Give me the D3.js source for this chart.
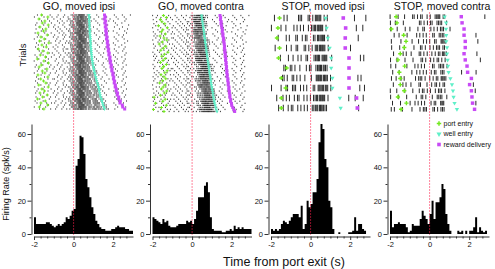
<!DOCTYPE html>
<html><head><meta charset="utf-8">
<script src="https://cdn.jsdelivr.net/npm/d3@7"></script>
<style>
body{margin:0;background:#fff}
svg{display:block}
text{font-family:"Liberation Sans",Arial,Helvetica,sans-serif;fill:#111}
</style>
</head><body>
<svg id="chart" width="495" height="269"></svg>
<script>
// ---------------- DATA ----------------
const panelTitles = ["GO, moved ipsi", "GO, moved contra", "STOP, moved ipsi", "STOP, moved contra"];
const timeTicks = [-2, 0, 2];
const rateTicks = [0, 20, 40, 60];
const rateMinorTicks = [10, 30, 50];
const legendLabels = ["port entry", "well entry", "reward delivery"];
const axisLabelX = "Time from port exit (s)";
const axisLabelHist = "Firing Rate (spk/s)";
const axisLabelRaster = "Trials";
const binStart = -2, binWidth = 0.1;

// histogram firing rates (spk/s), 0.1 s bins from -2 s
const rateGoIpsi = [10,6,6,6,6,6,7,7,6,5, 4,5,6,5,6,7,10,9,11,14, 15,41,45,59,58,48,33,28,22,16, 12,8,6,4,3,3,2,2,2,3, 3,4,5,4,4,4,3,3,2,2];
const rateGoContra = [10,9,8,7,6,9,7,8,5,4, 4,4,5,6,6,6,6,8,7,8, 6,9,14,22,22,22,29,31,25,10, 3,2,2,2,2,1,1,2,2,3, 2,5,3,4,3,4,3,3,3,3];
const rateStopIpsi = [3,2,3,2,3,6,8,7,6,8, 10,12,12,12,10,17,3,6,20,16, 18,25,25,33,55,66,63,45,40,20, 16,3,0,0,1,0,0,0,0,1, 1,2,10,2,6,6,3,2,0,0];
const rateStopContra = [14,4,6,6,7,6,6,6,4,1, 2,6,5,5,5,9,14,11,9,6, 12,20,9,19,19,22,30,27,12,6, 2,0,0,0,2,1,2,0,2,0, 2,2,4,10,1,4,2,1,2,0];

// raster: spikes per 0.1 s bin for each displayed trial (from -2 s)
const spikesGoIpsi = [
"0100100010 0010010011 1233321100 0100010000 1000100010",
"1000010001 0100100101 1234322110 0010001000 0100010000",
"0010001000 1001000111 2233322100 1000100010 0010001000",
"0001000100 0100101012 1234332110 0100000100 1000010000",
"0100010010 0010010011 1333322110 0010010000 0100100000",
"1000100000 1000100111 2234322110 0001000100 0010000100",
"0010000101 0010010012 1233432100 1000010000 1000100000",
"0100100000 1001001011 2234322110 0100001000 0001000100",
"0001001000 0100100111 1234332210 0010000100 1000010000",
"1000010010 0010010012 2333422110 1000100000 0100001000",
"0010000100 1000101011 1234332110 0100010000 0010010000",
"0100100001 0010010111 2234322110 0001000100 1000100000",
"1000010000 0100100012 1334332110 0010001000 0100010000",
"0001000100 1001001011 2233432110 1000010000 0010000100",
"0100010010 0010010111 1234332210 0100100000 1000010000",
"0010001000 0100100012 2234322110 0010000100 0100100000",
"1000100001 0010010011 1334332110 0001001000 0010001000",
"0100000100 1000101112 2233422110 1000010000 1000010000",
"0010010000 0100100011 1234332210 0100000100 0100100000",
"0001000101 0010010112 2234332110 0010010000 0010001000",
"1000100000 1001001011 1333422110 0001000100 1000010000",
"0100001010 0010010111 2234332210 1000100000 0100100000",
"0010000100 0100100012 1234322211 0100001000 0010001000",
"1000010000 1000101011 2233432210 0010000100 1000010000",
"0001001000 0010010112 1234332211 1000010000 0100100000",
"0100100010 0100100011 2334322211 0100100000 0010001000",
"1000000100 1001001012 1234332211 1000010000 1000010000",
"0010010001 0010010111 2233422211 1000001000 0100100000",
"0100001000 0100100112 1234332221 1100100000 0010001000",
"1000100010 1000101011 2234332211 1100010000 1000010000",
"0001000100 0010010012 1333422221 1010001000 0100100000",
"0100010000 0100100111 2234332211 1100100000 0010001000",
"0010000101 1001001012 1234322221 1101000100 1000010000",
"1000100000 0010010111 2233432211 2100010000 0100100000",
"0100001010 0100100012 1234332221 1110001000 0010001000",
"0001000100 1000101011 2234322211 2110100000 1000010000",
"1000010000 0010010112 1333432221 1210010000 0100100000",
"0010100010 0100100011 2234332211 2111000100 0010001000",
"0100000100 1001001012 1234322221 1210100000 1000010000",
"1000100001 0010010111 2233432221 2111010000 0100100000",
"0001001000 0100100012 1234332211 2211001000 0010001000",
"0100010010 1000101011 2234322221 1211100000 1000010000",
"0010000100 0010010112 1333432211 2211110000 0100100000",
"1000100000 0100100111 2234332221 2211101000 0010001000",
"0100001010 1001001012 1234322221 2221110000 1000010000",
"0001000100 0010010111 2233432211 2211111000 0100100000",
"1000010000 0100100012 1234332221 2221111000 0010001000",
"0010100010 1000101011 2234322211 2221111100 1000010000"
];
const portGoIpsi = [-1.62,-1.30,-1.75,-1.45,-1.58,-1.28,-1.70,-1.40,-1.52,-1.80,-1.33,-1.65,-1.48,-1.72,-1.25,-1.60,-1.38,-1.78,-1.55,-1.30,-1.68,-1.42,-1.83,-1.50,-1.27,-1.63,-1.74,-1.35,-1.58,-1.45,-1.80,-1.30,-1.66,-1.52,-1.40,-1.76,-1.28,-1.60,-1.47,-1.70,-1.33,-1.56,-1.82,-1.43,-1.65,-1.31,-1.73,-1.50];
const wellGoIpsi = [0.78,0.78,0.79,0.79,0.80,0.80,0.81,0.81,0.82,0.82,0.83,0.84,0.85,0.85,0.86,0.86,0.87,0.88,0.89,0.90,0.91,0.92,0.93,0.95,0.96,0.98,1.00,1.02,1.04,1.07,1.09,1.12,1.14,1.17,1.20,1.23,1.26,1.28,1.30,1.32,1.34,1.36,1.40,1.43,1.46,1.49,1.53,1.56];
const rewardGoIpsi = [1.56,1.60,1.55,1.62,1.58,1.64,1.60,1.65,1.62,1.66,1.64,1.69,1.66,1.72,1.70,1.74,1.72,1.77,1.75,1.80,1.78,1.84,1.82,1.87,1.85,1.91,1.89,1.94,1.93,1.99,1.98,2.03,2.01,2.07,2.05,2.11,2.10,2.16,2.15,2.22,2.20,2.28,2.27,2.36,2.34,2.46,2.48,2.58];

const spikesGoContra = [
"1010010010 0100100101 1233321100 0100010000 1000100010",
"0100100101 0010010010 1232332100 0010001000 0100010000",
"1001001000 1001001001 1223321000 1000100010 0010001000",
"0010100100 0100100110 1333221100 0100000100 1000010000",
"1000010010 0010010101 1233321100 0010010000 0100100000",
"0101001000 1001001010 1232332100 0001000100 0010000100",
"1000100101 0100100101 1223321000 1000010000 1000100000",
"0010010010 0010010110 1333221100 0100001000 0001000100",
"1001000100 1001001001 1233321100 0010000100 1000010000",
"0100101001 0100100110 1232332100 1000100000 0100001000",
"1010010000 0010010101 1223321000 0100010000 0010010000",
"0100100101 1001001010 1333221100 0001000100 1000100000",
"1001010010 0100100101 0122333210 0010001000 0100010000",
"0010100100 0010010110 1123332110 1000010000 0010000100",
"1000010010 1001001001 0123323210 0100100000 1000010000",
"0101001000 0100100110 1122333210 0010000100 0100100000",
"1000100101 0010010101 0122333210 0001001000 0010001000",
"0010010010 1001001010 1123332110 1000010000 1000010000",
"1001000100 0100100101 0123323210 0100000100 0100100000",
"0100101001 0010010110 1122333210 0010010000 0010001000",
"1010010000 1001001001 0122333210 0001000100 1000010000",
"0100100101 0100100110 1123332110 1000100000 0100100000",
"1001010010 0010010101 0123323210 0100001000 0010001000",
"0010100100 1001001010 1122333210 0010000100 1000010000",
"1000010010 0100100101 0112233321 1000010000 0100100000",
"0101001000 0010010110 0011233331 0100100000 0010001000",
"1000100101 1001001001 1012333321 1000010000 1000010000",
"0010010010 0100100110 0112323331 1000001000 0100100000",
"1001000100 0010010101 0112233321 0100100000 0010001000",
"0100101001 1001001010 0011233331 1000010000 1000010000",
"1010010000 0100100101 1012333321 0010001000 0100100000",
"0100100101 0010010110 0112323331 1000100000 0010001000",
"1001010010 1001001001 0112233321 0101000100 1000010000",
"0010100100 0100100110 0011233331 1000010000 0100100000",
"1000010010 0010010101 1012333321 0100001000 0010001000",
"0101001000 1001001010 0112323331 1000100000 1000010000",
"1000100101 0100100101 0011123333 2100010000 0100100000",
"0010010010 0010010110 0101123332 2101000100 0010001000",
"1001000100 1001001001 0011223333 2100100000 1000010000",
"0100101001 0100100110 1011123332 2110010000 0100100000",
"1010010000 0010010101 0011123333 2101001000 0010001000",
"0100100101 1001001010 0101123332 2100100000 1000010000",
"1001010010 0100100101 0011223333 2110010000 0100100000",
"0010100100 0010010110 1011123332 2101000100 0010001000",
"1000010010 1001001001 0011123333 2100100000 1000010000",
"0101001000 0100100110 0101123332 2110010000 0100100000",
"1000100101 0010010101 0011223333 2101001000 0010001000",
"0010010010 1001001010 1011123332 2210100000 1000010000"
];
const portGoContra = [-1.45,-1.30,-1.60,-1.52,-1.38,-1.70,-1.25,-1.48,-1.55,-1.35,-1.62,-1.42,-1.28,-1.50,-1.66,-1.33,-1.45,-1.58,-1.22,-1.40,-1.53,-1.36,-1.47,-1.60,-1.30,-1.44,-1.52,-1.26,-1.38,-1.57,-1.42,-1.33,-1.49,-1.64,-1.35,-1.46,-1.55,-1.28,-1.40,-1.60,-1.92,-1.36,-1.48,-1.85,-1.30,-1.55,-1.95,-1.42];
const wellGoContra = [0.48,0.49,0.51,0.52,0.54,0.55,0.57,0.58,0.60,0.61,0.62,0.64,0.65,0.66,0.68,0.69,0.71,0.72,0.73,0.75,0.76,0.78,0.79,0.81,0.82,0.84,0.85,0.87,0.88,0.90,0.92,0.93,0.95,0.96,0.98,1.00,1.01,1.03,1.05,1.06,1.08,1.10,1.12,1.14,1.17,1.19,1.22,1.26];
const rewardGoContra = [1.41,1.44,1.43,1.47,1.46,1.49,1.50,1.53,1.52,1.56,1.55,1.59,1.58,1.61,1.62,1.64,1.63,1.66,1.65,1.68,1.67,1.70,1.69,1.72,1.71,1.74,1.73,1.76,1.75,1.78,1.77,1.81,1.80,1.83,1.82,1.86,1.85,1.88,1.88,1.91,1.90,1.95,1.94,1.99,2.00,2.05,2.10,2.15];

const spikesStopIpsi = [
"0100001010 0001110011 0121211010 0000000000 0010000100",
"1000010100 0101101010 1122221100 0000000000 0001001000",
"0001000101 0011010110 0112122110 0000000000 0000100000",
"0010000100 1011001101 1012222110 0000000000 1000000000",
"0000100010 0101010110 0112212210 1000000000 0000011000",
"0000001101 1010100101 1011222110 0000000000 0000000000",
"0000011010 1101100100 1012222210 1000000000 0001010000",
"1000010110 1110101010 0111212210 1000000000 0000100100",
"0010001101 0101101011 0112222110 0000000001 0010001000",
"0001001010 1101011010 1112221110 0000000000 0000100000"
];
const portStopIpsi = [-1.57,-1.65,-1.70,-1.57,-1.62,-1.21,-1.48,-1.26,-1.48,-1.48];
const wellStopIpsi = [0.76,0.81,0.87,0.96,1.04,1.04,1.10,1.10,1.48,1.52];
const rewardStopIpsi = [1.65,1.77,1.75,1.75,1.94,1.94,1.94,1.94,2.32,2.36];

const spikesStopContra = [
"1000100100 0111011010 1011211100 0000000000 0000000100",
"1010001000 0000110110 1101111010 0000000000 0000000000",
"1001000100 1000101100 1011011100 1000000000 0000000000",
"0010100010 0001011010 0110111100 0000000000 0001000000",
"1000010000 0100101010 1011012110 0000000000 0000100000",
"1000100100 0010011100 1101111100 0000000000 0000000000",
"0100001010 1000110110 0110112110 0000000000 0001000000",
"1001000100 0100011010 1011101100 0000000000 0000010000",
"1010000010 0010110100 0110111110 0000000000 0000000000",
"0100100000 0101011010 1011011100 0000001000 0001000000",
"1001010100 0010111100 1101112110 0000000000 0000000000",
"0100001010 1000110010 0111011100 0000000000 0010000000",
"1001000100 0100101110 1010111100 0000000000 0001000000",
"1000100010 0001011010 0101111010 0000000000 0000000000",
"0100010000 1010110100 1011012100 0000000000 0001000000",
"1010001000 0100011110 0110111100 0000000000 0000000000"
];
const portStopContra = [-1.69,-1.65,-1.93,-1.31,-1.19,-1.28,-1.48,-1.60,-1.26,-1.53,-1.48,-1.48,-1.28,-1.60,-1.17,-1.44];
const wellStopContra = [0.76,0.83,0.83,0.84,0.84,0.88,0.88,0.91,0.93,0.96,1.05,1.13,1.18,1.21,1.26,1.38];
const rewardStopContra = [1.60,1.64,1.74,1.74,1.80,1.80,1.74,1.80,1.89,1.92,2.11,2.02,2.11,2.14,2.17,2.27];

// ---------------- LAYOUT ----------------
const colors = {port: "#72e81e", well: "#5ef0c8", reward: "#c84af6", zero: "#ff1f4b"};
const panels = [
  {title: panelTitles[0], rate: rateGoIpsi, spikes: spikesGoIpsi, port: portGoIpsi, well: wellGoIpsi, reward: rewardGoIpsi,
   left: 34, rTop: 14, rBot: 110, tickH: 1.3, tickW: 0.8, sz: {port: 5, well: 5, reward: 9}, titleDx: -4.5},
  {title: panelTitles[1], rate: rateGoContra, spikes: spikesGoContra, port: portGoContra, well: wellGoContra, reward: rewardGoContra,
   left: 152.5, rTop: 14.5, rBot: 112.5, tickH: 1.3, tickW: 0.8, sz: {port: 5, well: 5, reward: 9}, titleDx: -1},
  {title: panelTitles[2], rate: rateStopIpsi, spikes: spikesStopIpsi, port: portStopIpsi, well: wellStopIpsi, reward: rewardStopIpsi,
   left: 271, rTop: 13, rBot: 113, tickH: 6.5, tickW: 0.9, sz: {port: 10, well: 8, reward: 13}, titleDx: 2.5},
  {title: panelTitles[3], rate: rateStopContra, spikes: spikesStopContra, port: portStopContra, well: wellStopContra, reward: rewardStopContra,
   left: 390, rTop: 13.6, rBot: 112.4, tickH: 4.6, tickW: 0.9, sz: {port: 10, well: 8, reward: 12}, titleDx: 2.5}
];
const pxPerSec = 19.8;
const histBase = 234, histTopVal = 66, pxPerRate = 100 / 60;
const lineTop = 12;

const svg = d3.select("#chart");

panels.forEach((p, pi) => {
  const x = d3.scaleLinear().domain([-2, 3]).range([p.left, p.left + 5 * pxPerSec]);
  const y = d3.scaleLinear().domain([0, histTopVal]).range([histBase, histBase - histTopVal * pxPerRate]);
  const rows = d3.scaleBand().domain(d3.range(p.spikes.length)).range([p.rTop, p.rBot]);
  const rc = r => rows(r) + rows.bandwidth() / 2;
  const g = svg.append("g");

  g.append("text").attr("x", x(0.5) + p.titleDx).attr("y", 10)
    .attr("text-anchor", "middle").attr("font-size", "10.5px").text(p.title);

  // raster spikes; position inside a bin is staggered by trial and bin so ticks do not line up in columns
  let d = "";
  p.spikes.forEach((s, r) => {
    const str = s.replace(/\s/g, "");
    const cy = rc(r);
    for (let i = 0; i < str.length; i++) {
      const n = +str[i];
      if (!n) continue;
      const stagger = ((r * 37 + i * 13) % 17) / 17 - 0.5;
      for (let k = 0; k < n; k++) {
        const t = binStart + binWidth * (i + (k + 0.5 + stagger * 0.9) / n);
        d += "M" + x(t).toFixed(2) + "," + (cy - p.tickH / 2).toFixed(2) + "V" + (cy + p.tickH / 2).toFixed(2);
      }
    }
  });
  g.append("path").attr("d", d).attr("fill", "none").attr("stroke", "#111").attr("stroke-width", p.tickW);

  // event markers
  g.selectAll(".port").data(p.port).join("path")
    .attr("transform", (v, r) => `translate(${x(v)},${rc(r)})`)
    .attr("d", d3.symbol().type(d3.symbolCross).size(p.sz.port)).attr("fill", colors.port);
  g.selectAll(".well").data(p.well).join("path")
    .attr("transform", (v, r) => `translate(${x(v)},${rc(r)}) rotate(180)`)
    .attr("d", d3.symbol().type(d3.symbolTriangle).size(p.sz.well)).attr("fill", colors.well);
  g.selectAll(".reward").data(p.reward).join("path")
    .attr("transform", (v, r) => `translate(${x(v)},${rc(r)})`)
    .attr("d", d3.symbol().type(d3.symbolSquare).size(p.sz.reward)).attr("fill", colors.reward);

  // histogram
  const pts = p.rate.map((v, i) => [binStart + binWidth * i, v]);
  pts.push([binStart + binWidth * p.rate.length, p.rate[p.rate.length - 1]]);
  const area = d3.area().x(q => x(q[0])).y0(y(0)).y1(q => y(q[1])).curve(d3.curveStepAfter);
  g.append("path").attr("d", area(pts)).attr("fill", "#000");

  // y axis
  const yAxisX = x(-2) - 2.5;
  g.append("g").attr("transform", `translate(${yAxisX},0)`)
    .call(d3.axisLeft(y).tickValues(rateTicks).tickSize(4).tickSizeOuter(0).tickPadding(1.5).tickFormat(v => String(v)));
  g.append("g").attr("transform", `translate(${yAxisX},0)`)
    .call(d3.axisLeft(y).tickValues(rateMinorTicks).tickSize(2).tickSizeOuter(0).tickFormat(""))
    .select(".domain").remove();

  // x axis
  const xAxisY = histBase + 2.5;
  g.append("g").attr("transform", `translate(0,${xAxisY})`)
    .call(d3.axisBottom(x).tickValues(timeTicks).tickSize(3.5).tickSizeOuter(0).tickPadding(1.5).tickFormat(v => String(v)));
  const minor = d3.range(-6, 9).map(k => k / 3).filter(v => timeTicks.indexOf(Math.round(v * 1000) / 1000) < 0 && v <= 3);
  g.append("g").attr("transform", `translate(0,${xAxisY})`)
    .call(d3.axisBottom(x).tickValues(minor).tickSize(2).tickSizeOuter(0).tickFormat(""))
    .select(".domain").remove();

  g.selectAll(".tick text").attr("font-size", "7.5px").attr("fill", "#222");
  g.selectAll(".domain, .tick line").attr("stroke", "#333");

  // zero line
  g.append("line").attr("x1", x(0)).attr("x2", x(0)).attr("y1", lineTop).attr("y2", histBase + 1)
    .attr("stroke", colors.zero).attr("stroke-opacity", 0.55).attr("stroke-width", 1).attr("stroke-dasharray", "2,1");

  if (pi === 3) {
    const lg = g.append("g");
    const lx = 439, ly = [123.5, 134, 144.5];
    const syms = [d3.symbolCross, d3.symbolTriangle, d3.symbolSquare];
    const cols = [colors.port, colors.well, colors.reward];
    legendLabels.forEach((lab, i) => {
      lg.append("path").attr("transform", `translate(${lx},${ly[i]})` + (i === 1 ? " rotate(180)" : ""))
        .attr("d", d3.symbol().type(syms[i]).size(i === 2 ? 13 : 11)).attr("fill", cols[i]);
      lg.append("text").attr("x", lx + 4.5).attr("y", ly[i]).attr("dy", "0.35em")
        .attr("font-size", "7px").text(lab);
    });
  }
});

svg.append("text").attr("transform", "translate(23,55) rotate(-90)").attr("text-anchor", "middle")
  .attr("dy", "0.35em").attr("font-size", "9.5px").text(axisLabelRaster);
svg.append("text").attr("transform", "translate(6,184) rotate(-90)").attr("text-anchor", "middle")
  .attr("dy", "0.35em").attr("font-size", "9px").text(axisLabelHist);
svg.append("text").attr("x", 284).attr("y", 266).attr("text-anchor", "middle")
  .attr("font-size", "12.5px").text(axisLabelX);
</script>
</body></html>
